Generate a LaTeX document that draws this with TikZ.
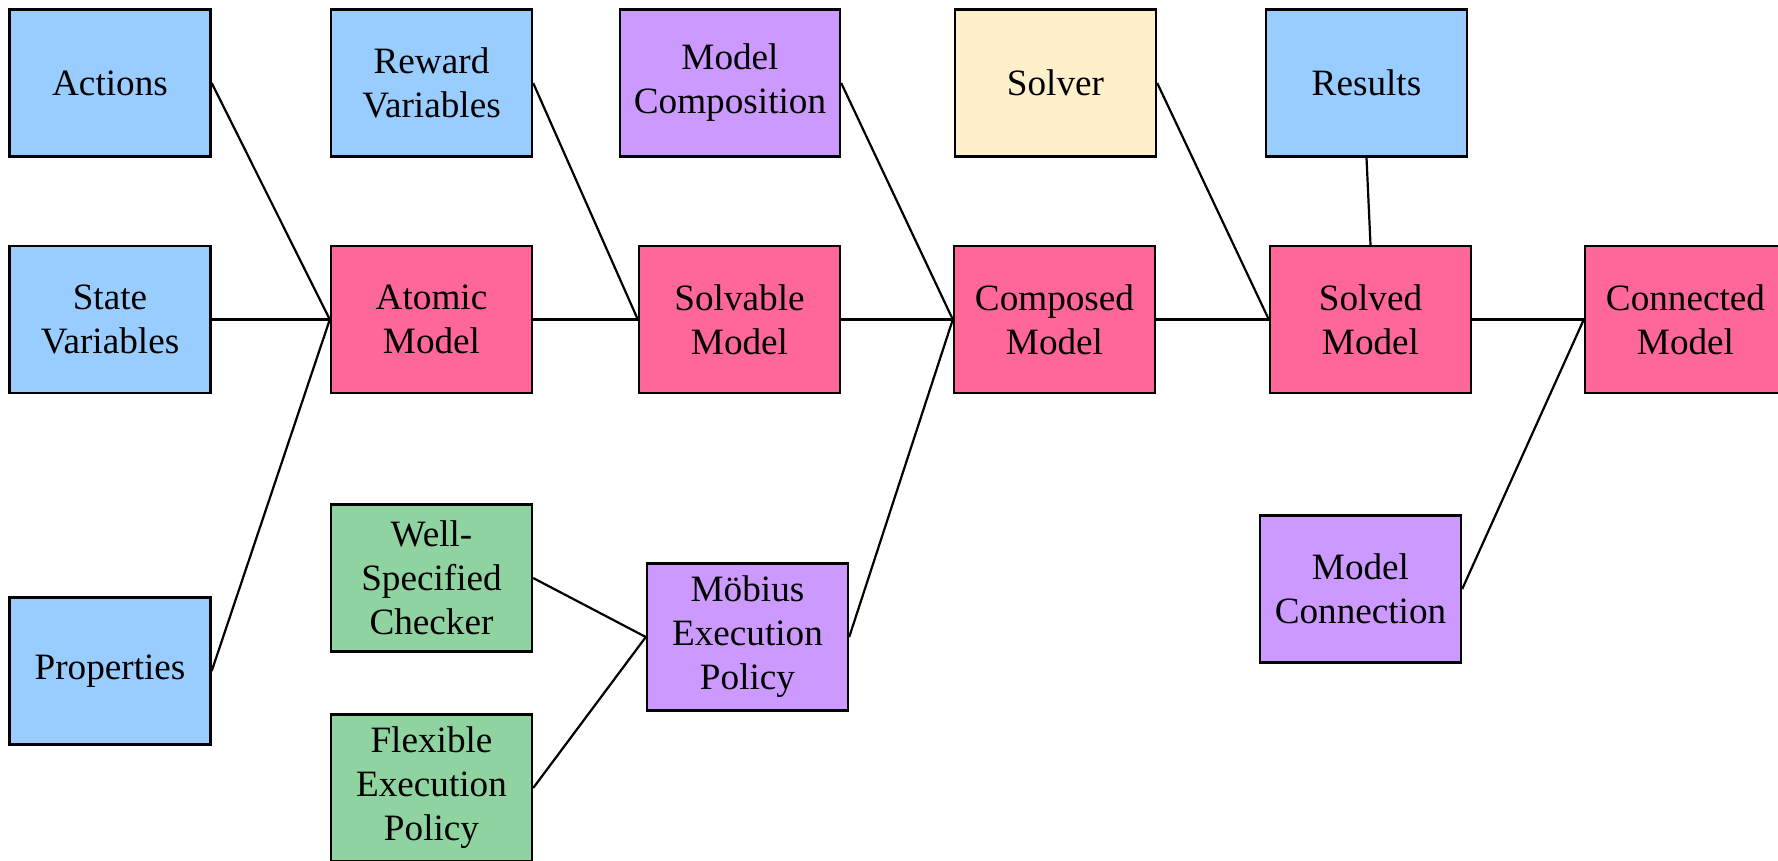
\documentclass[tikz,border=0pt]{standalone}
\usepackage{fontspec}
\setmainfont{Liberation Serif}
\usepackage{tikz}
\usetikzlibrary{positioning}
\definecolor{varblue}{HTML}{99CCFF}
\definecolor{modelpink}{HTML}{FF6699}
\definecolor{editorpurple}{HTML}{CC99FF}
\definecolor{checkgreen}{HTML}{8FD3A0}
\definecolor{solveryellow}{HTML}{FFF0CC}
\tikzset{
  box/.style={draw,line width=0.6pt,minimum width=50.25pt,minimum height=36.75pt,inner sep=1pt,align=center,font=\fontsize{9.3}{11}\selectfont},
  varbox/.style={box,fill=varblue},
  modelst/.style={box,fill=modelpink},
  editorst/.style={box,fill=editorpurple},
  checkst/.style={box,fill=checkgreen},
  solverst/.style={box,fill=solveryellow},
  link/.style={line width=0.55pt}
}

\begin{document}
\begin{tikzpicture}[x=0.25pt,y=-0.25pt]
  \useasboundingbox (0,0) rectangle (1778,860);

  % inputs
  \node[varbox] (actions) at (110,83) {Actions};
  \node[varbox] (statevars) at (110,319.5) {State\\Variables};
  \node[varbox] (props) at (110,671) {Properties};
  \node[varbox] (reward) at (431.5,83) {Reward\\Variables};
  \node[checkst] (wellspec) at (431.5,578) {Well-\\Specified\\Checker};
  \node[checkst] (flexpol) at (431.5,788) {Flexible\\Execution\\Policy};
  \node[editorst,minimum width=55pt] (composition) at (730,83) {Model\\Composition};
  \node[editorst] (mobius) at (747.5,637) {Möbius\\Execution\\Policy};
  \node[solverst] (solver) at (1055.5,83) {Solver};
  \node[varbox] (results) at (1366.5,83) {Results};
  \node[editorst] (connection) at (1360.5,589) {Model\\Connection};

  % model chain
  \node[modelst] (atomic) at (431.5,319.5) {Atomic\\Model};
  \node[modelst] (solvable) at (739.5,319.5) {Solvable\\Model};
  \node[modelst] (composed) at (1054.5,319.5) {Composed\\Model};
  \node[modelst] (solved) at (1370.5,319.5) {Solved\\Model};
  \node[modelst] (connected) at (1685.5,319.5) {Connected\\Model};

  \draw[link] (actions.east) -- (atomic.west);
  \draw[link] (statevars.east) -- (atomic.west);
  \draw[link] (props.east) -- (atomic.west);
  \draw[link] (atomic.east) -- (solvable.west);
  \draw[link] (reward.east) -- (solvable.west);
  \draw[link] (solvable.east) -- (composed.west);
  \draw[link] (composition.east) -- (composed.west);
  \draw[link] (mobius.east) -- (composed.west);
  \draw[link] (wellspec.east) -- (mobius.west);
  \draw[link] (flexpol.east) -- (mobius.west);
  \draw[link] (composed.east) -- (solved.west);
  \draw[link] (solver.east) -- (solved.west);
  \draw[link] (results.south) -- (solved.north);
  \draw[link] (solved.east) -- (connected.west);
  \draw[link] (connection.east) -- (connected.west);
\end{tikzpicture}
\end{document}
